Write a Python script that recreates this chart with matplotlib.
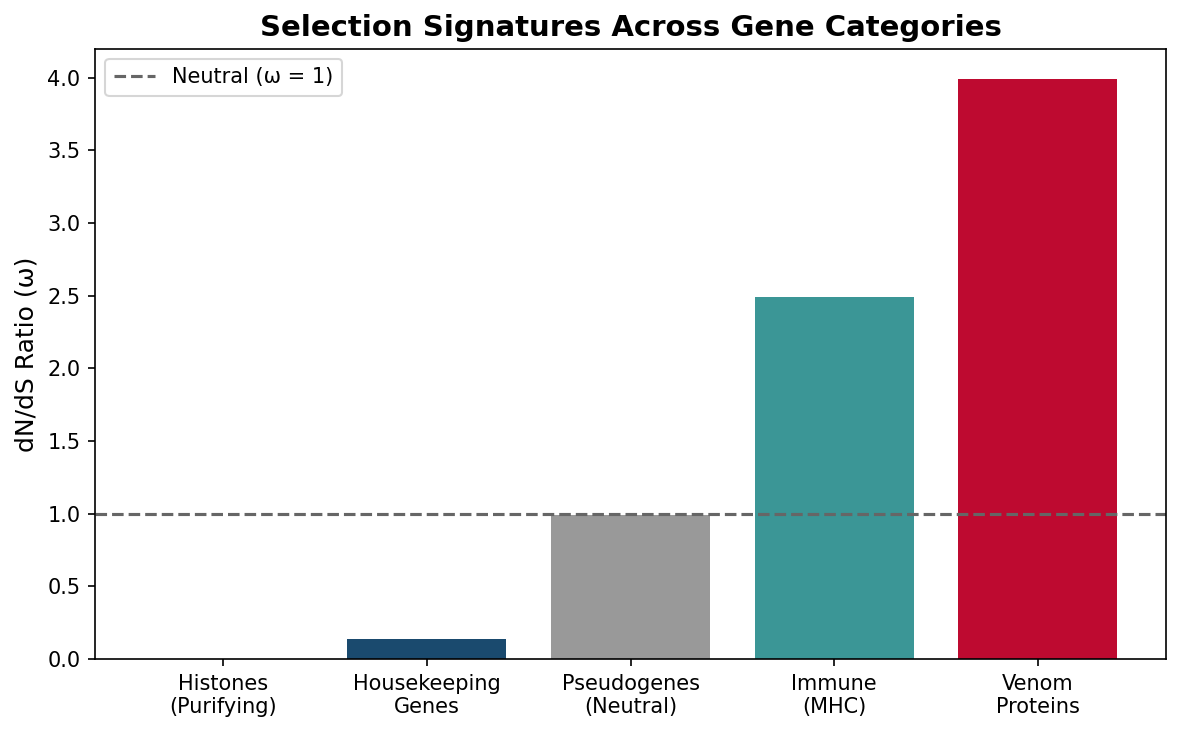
import matplotlib
matplotlib.use('Agg')
import matplotlib.pyplot as plt

categories = ['Histones\n(Purifying)', 'Housekeeping\nGenes', 'Pseudogenes\n(Neutral)',
              'Immune\n(MHC)', 'Venom\nProteins']
omega = [0.001, 0.14, 0.99, 2.49, 3.99]
colors = ['#2e6f95', '#1a4a6e', '#999999', '#3b9696', '#be0a30']


def main():
    fig, ax = plt.subplots(figsize=(7.88, 4.88), dpi=150)
    fig.subplots_adjust(left=0.0804, right=0.9865, top=0.9335, bottom=0.0997)

    ax.bar(range(len(categories)), omega, width=0.78, color=colors)
    ax.axhline(1.0, color='#666666', linestyle='--', linewidth=1.5,
               label='Neutral (ω = 1)')

    ax.set_xticks(range(len(categories)))
    ax.set_xticklabels(categories)
    ax.set_ylim(0, 4.2)
    ax.set_ylabel('dN/dS Ratio (ω)', fontsize=12)
    ax.set_title('Selection Signatures Across Gene Categories',
                 fontsize=14, fontweight='bold')
    ax.legend(loc='upper left')

    fig.savefig('out.png', dpi=150)


if __name__ == "__main__":
    main()
